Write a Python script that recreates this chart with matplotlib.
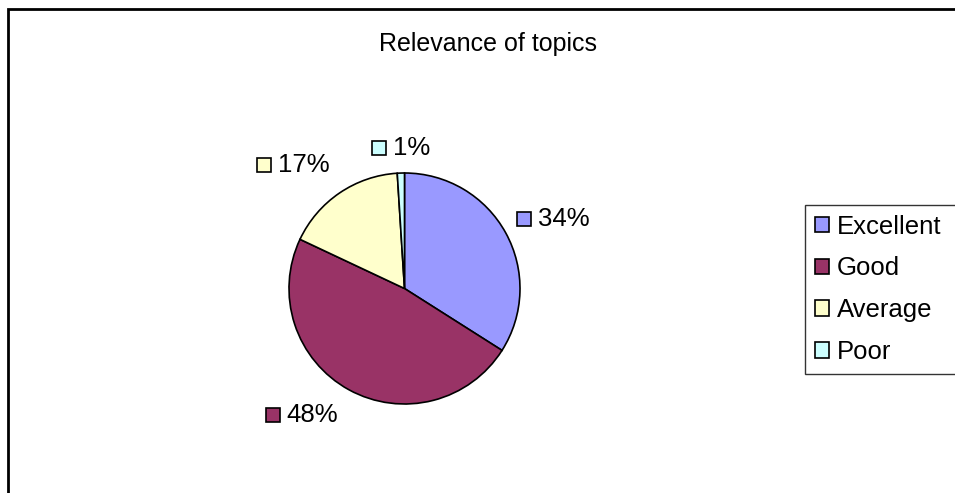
import matplotlib
matplotlib.use("Agg")
import matplotlib.pyplot as plt
from matplotlib.patches import Rectangle, Patch

plt.rcParams['font.family'] = ['Liberation Sans', 'DejaVu Sans']

# ---- data ----
categories = ["Excellent", "Good", "Average", "Poor"]
values = [34, 48, 17, 1]
colors = ["#9999FF", "#993366", "#FFFFCC", "#CCFFFF"]
pct_labels = ["34%", "48%", "17%", "1%"]
title = "Relevance of topics"
# label anchor positions (square marker centre), in units of pie radius
label_pos = [(1.035, 0.60), (-1.14, -1.095), (-1.216, 1.069), (-0.22, 1.216)]

W, H = 955, 493
FS = 18.5
fig = plt.figure(figsize=(W / 100, H / 100), dpi=100)
fig.patch.set_facecolor("white")

# outer chart border (right and bottom edges fall outside the picture)
fig.add_artist(Rectangle((7.5 / W, -0.05), 1.2, (H - 9.5) / H + 0.05,
                         transform=fig.transFigure, fill=False,
                         edgecolor="black", linewidth=2))

fig.text(0.5 * (378 + 597) / W, 1 - 44 / H, title, ha="center", va="center",
         fontsize=18)

cx, cy, r = 404.5, H - 288.5, 115.5
ax = fig.add_axes([(cx - r) / W, (cy - r) / H, 2 * r / W, 2 * r / H])
ax.pie(values, colors=colors, startangle=90, counterclock=False,
       wedgeprops=dict(edgecolor="black", linewidth=1.2))
ax.set_xlim(-1, 1)
ax.set_ylim(-1, 1)
ax.set_aspect("auto")
ax.axis("off")

for (x, y), lab, col in zip(label_pos, pct_labels, colors):
    ax.plot([x], [y], marker="s", markersize=10, markerfacecolor=col,
            markeredgecolor="black", markeredgewidth=1.2, clip_on=False,
            linestyle="none")
    ax.annotate(lab, (x, y), xytext=(10, 0), textcoords="offset points",
                ha="left", va="center", fontsize=FS, annotation_clip=False)

handles = [Patch(facecolor=c, edgecolor="black", linewidth=1.2) for c in colors]
leg = fig.legend(handles, categories, loc="upper left", mode="expand",
                 bbox_to_anchor=(805 / W, 1 - 373 / H, 200 / W, 168 / H),
                 fontsize=FS, frameon=True, fancybox=False, edgecolor="black",
                 handlelength=0.55, handleheight=0.55, handletextpad=0.32,
                 labelspacing=0.69, borderpad=0.38, borderaxespad=0)
leg.get_frame().set_linewidth(1)

fig.savefig("out.png", dpi=100, facecolor="white")
